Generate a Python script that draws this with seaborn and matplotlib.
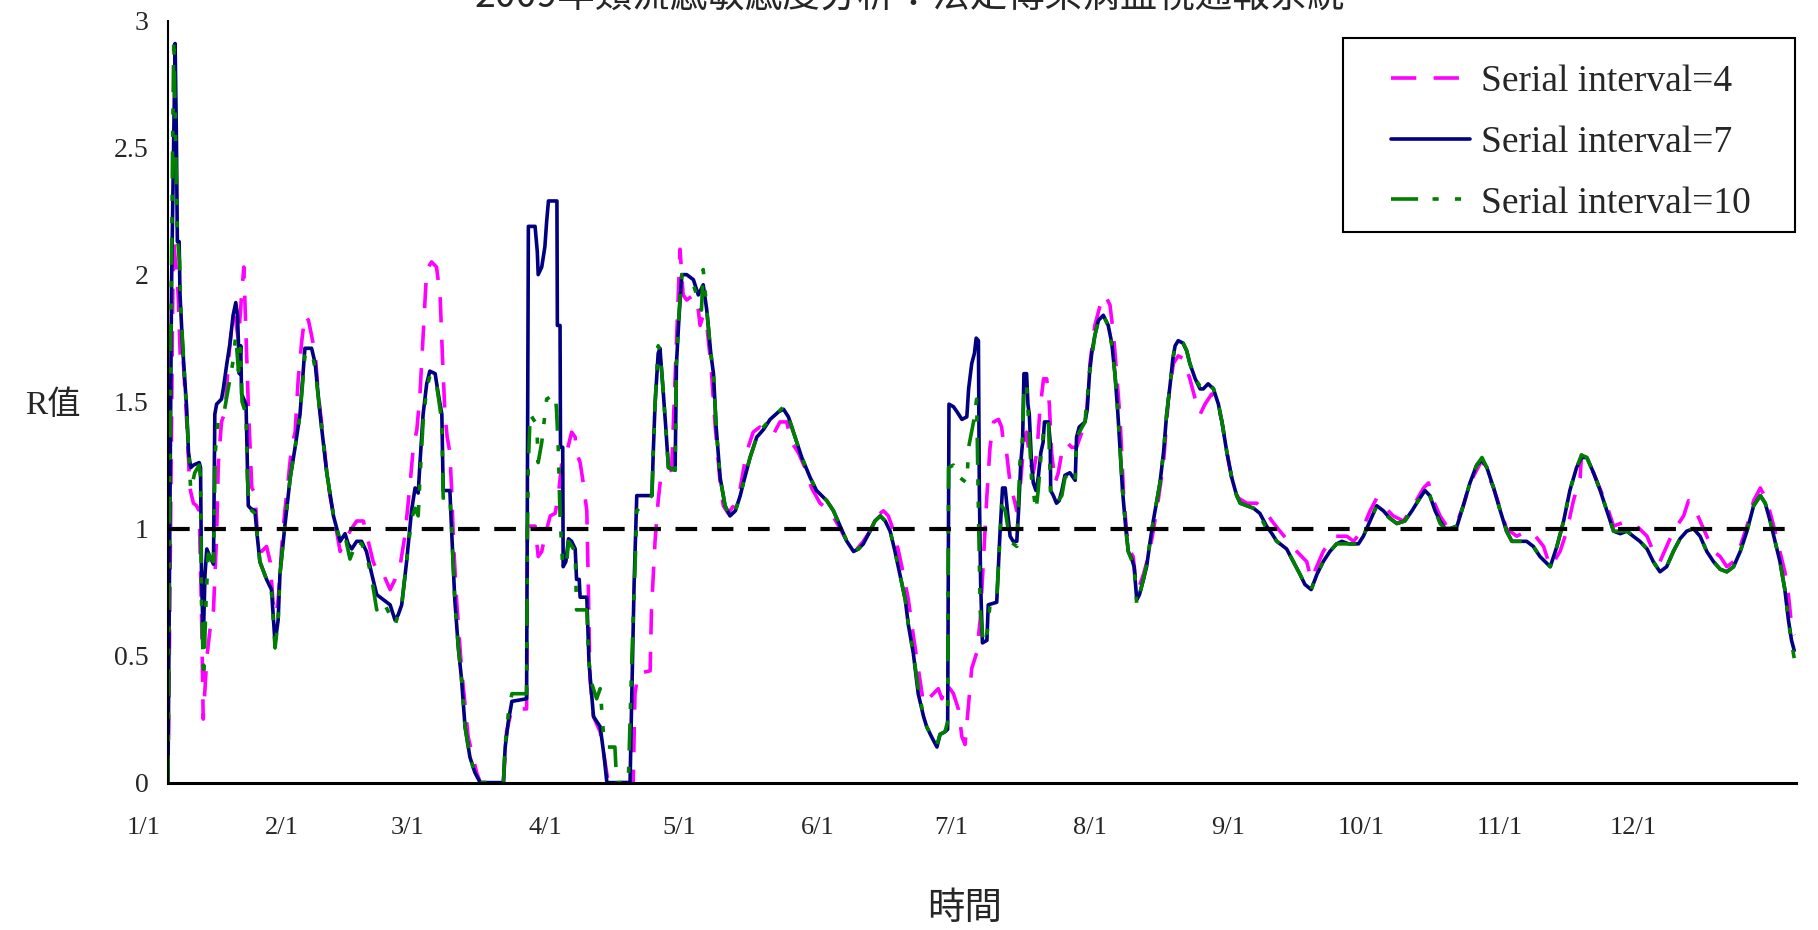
import pandas as pd
import numpy as np
import matplotlib
matplotlib.use("Agg")
import matplotlib.pyplot as plt
from matplotlib.patches import Rectangle
from matplotlib.transforms import ScaledTranslation
import seaborn as sns

sns.set_style("white")
plt.rcParams["font.family"] = ["Liberation Serif", "Noto Sans CJK TC", "DejaVu Sans"]

title = "2009年類流感敏感度分析：法定傳染病監視通報系統"
series_labels = ["Serial interval=4", "Serial interval=7", "Serial interval=10"]
month_starts = [0, 31, 59, 90, 120, 151, 181, 212, 243, 273, 304, 334, 365]
month_labels = ["1/1", "2/1", "3/1", "4/1", "5/1", "6/1", "7/1", "8/1",
                "9/1", "10/1", "11/1", "12/1", ""]
y_ticks = [0, 0.5, 1, 1.5, 2, 2.5, 3]

# (day of year, R)
si4 = [(0.0, 0.0), (0.3, 0.5), (1.2, 2.15), (2.3, 1.92), (2.8, 1.65), (3.4, 1.67), (4.2, 1.42),
       (4.9, 1.16), (5.7, 1.10), (6.4, 1.09), (7.0, 1.07), (7.5, 0.68), (7.9, 0.25), (8.7, 0.49),
       (9.4, 0.60), (10.2, 0.68), (10.9, 0.97), (11.3, 1.26), (12.0, 1.42), (12.8, 1.46),
       (13.5, 1.65), (14.3, 1.80), (15.0, 1.84), (15.8, 1.74), (16.5, 1.92), (17.0, 2.03),
       (17.5, 1.76), (18.0, 1.49), (18.8, 1.16), (19.5, 1.14), (20.0, 0.99), (21.0, 0.91),
       (22.1, 0.93), (22.9, 0.87), (23.6, 0.70), (24.2, 0.66), (24.7, 0.72), (25.5, 0.93),
       (26.2, 1.07), (27.0, 1.20), (27.7, 1.32), (28.5, 1.38), (29.2, 1.59), (30.0, 1.74),
       (30.7, 1.84), (31.5, 1.82), (32.2, 1.76), (33.0, 1.69), (33.7, 1.53), (34.8, 1.36),
       (35.6, 1.22), (36.3, 1.13), (37.4, 1.03), (38.6, 0.91), (39.7, 0.95), (40.8, 0.99),
       (42.3, 1.03), (43.8, 1.03), (44.9, 0.95), (46.0, 0.87), (47.2, 0.82), (48.3, 0.82),
       (49.8, 0.76), (50.9, 0.80), (52.0, 0.85), (53.1, 0.97), (54.3, 1.18), (55.0, 1.32),
       (55.8, 1.39), (56.5, 1.53), (57.2, 1.76), (58.0, 2.02), (59.1, 2.05), (60.2, 2.03),
       (61.0, 1.92), (61.6, 1.65), (62.1, 1.45), (62.6, 1.36), (63.2, 1.30), (63.6, 1.15),
       (64.0, 0.95), (64.7, 0.72), (65.8, 0.45), (67.3, 0.18), (69.2, 0.04), (70.0, 0.0),
       (75.2, 0.0), (75.9, 0.20), (77.1, 0.29), (80.4, 0.29), (80.6, 1.01), (82.3, 1.01),
       (83.0, 0.89), (83.8, 0.91), (84.5, 0.97), (85.7, 1.05), (86.8, 1.06), (87.5, 1.13),
       (88.3, 1.26), (89.4, 1.30), (90.5, 1.38), (91.3, 1.36), (91.6, 1.30), (92.4, 1.26),
       (93.1, 1.18), (93.9, 1.07), (94.3, 0.72), (94.6, 0.41), (95.4, 0.26), (96.9, 0.20),
       (98.0, 0.08), (98.7, 0.0), (104.3, 0.0), (104.7, 0.35), (105.4, 0.43), (108.1, 0.44),
       (108.4, 0.68), (109.2, 0.95), (109.9, 1.11), (110.6, 1.22), (112.9, 1.23), (114.0, 1.74),
       (114.8, 2.10), (115.5, 1.92), (116.3, 1.90), (117.8, 1.92), (118.9, 1.86), (119.3, 1.80),
       (120.0, 1.84), (120.8, 1.80), (121.7, 1.65), (122.7, 1.40), (123.8, 1.18), (124.5, 1.09),
       (125.6, 1.06), (126.8, 1.09), (128.3, 1.16), (129.7, 1.30), (131.2, 1.38), (132.7, 1.40),
       (134.2, 1.38), (135.7, 1.37), (137.2, 1.42), (138.7, 1.42), (139.8, 1.34), (141.3, 1.30),
       (142.8, 1.24), (144.3, 1.16), (146.2, 1.10), (148.4, 1.07), (150.7, 1.00), (152.5, 0.94),
       (154.0, 0.91), (155.9, 0.95), (157.4, 0.99), (158.9, 1.05), (160.4, 1.07), (161.5, 1.05),
       (162.7, 0.99), (163.8, 0.91), (164.9, 0.82), (166.0, 0.72), (167.1, 0.58), (168.2, 0.45),
       (169.4, 0.31), (170.5, 0.33), (171.6, 0.35), (172.7, 0.37), (173.5, 0.33), (174.2, 0.39),
       (175.3, 0.37), (176.1, 0.35), (177.2, 0.29), (178.0, 0.18), (178.7, 0.15), (179.4, 0.29),
       (180.2, 0.45), (181.3, 0.51), (182.1, 0.64), (182.8, 0.87), (183.6, 1.13), (184.3, 1.32),
       (185.1, 1.42), (186.2, 1.43), (186.9, 1.40), (187.3, 1.34), (188.0, 1.30), (188.8, 1.18),
       (189.5, 1.13), (190.3, 1.07), (191.0, 1.15), (191.8, 1.32), (192.5, 1.38), (193.3, 1.26),
       (194.0, 1.22), (194.8, 1.30), (195.5, 1.47), (196.3, 1.59), (197.0, 1.59), (197.6, 1.49),
       (198.1, 1.30), (198.9, 1.18), (199.6, 1.22), (200.4, 1.30), (201.5, 1.34), (202.6, 1.32),
       (203.7, 1.32), (204.9, 1.38), (206.0, 1.47), (206.7, 1.65), (207.8, 1.80), (209.0, 1.88),
       (210.1, 1.92), (211.2, 1.88), (212.0, 1.76), (212.7, 1.61), (213.5, 1.42), (214.2, 1.15),
       (214.9, 0.99), (215.7, 0.91), (216.4, 0.89), (217.2, 0.76), (217.9, 0.78), (218.7, 0.82),
       (219.8, 0.89), (220.9, 0.99), (222.0, 1.11), (223.2, 1.26), (224.3, 1.51), (225.4, 1.65),
       (226.5, 1.68), (227.6, 1.67), (229.1, 1.59), (230.6, 1.49), (231.4, 1.45), (232.5, 1.49),
       (234.0, 1.53), (235.1, 1.51), (236.3, 1.42), (237.4, 1.30), (238.9, 1.16), (240.0, 1.12),
       (241.9, 1.10), (244.1, 1.10), (246.0, 1.07), (247.5, 1.03), (249.3, 0.99), (251.2, 0.95),
       (253.1, 0.91), (255.3, 0.87), (256.3, 0.80), (259.0, 0.91), (261.3, 0.97), (262.8, 0.97),
       (264.3, 0.97), (265.8, 0.95), (267.6, 0.99), (269.5, 1.07), (271.0, 1.12), (272.5, 1.09),
       (274.7, 1.05), (277.0, 1.03), (279.2, 1.09), (281.5, 1.16), (282.6, 1.18), (283.7, 1.11),
       (285.2, 1.05), (286.7, 1.01), (288.9, 1.02), (290.4, 1.09), (291.9, 1.18), (294.6, 1.27),
       (297.2, 1.16), (300.1, 1.00), (302.4, 0.97), (304.6, 0.99), (306.6, 0.97), (308.4, 0.93),
       (309.5, 0.87), (310.0, 0.85), (312.1, 0.91), (313.6, 0.99), (315.1, 1.11), (316.6, 1.20),
       (316.9, 1.29), (319.6, 1.22), (322.6, 1.09), (324.1, 1.01), (325.6, 1.02), (327.1, 1.03),
       (329.3, 1.01), (331.6, 0.97), (333.0, 0.91), (334.5, 0.87), (336.0, 0.93), (337.5, 0.99),
       (339.8, 1.05), (340.9, 1.11), (342.0, 1.09), (343.5, 1.03), (345.0, 0.97), (346.5, 0.91),
       (348.0, 0.89), (349.5, 0.85), (351.0, 0.87), (352.5, 0.93), (354.0, 1.01), (355.5, 1.11),
       (357.0, 1.16), (358.5, 1.11), (360.0, 1.01), (361.4, 0.91), (362.5, 0.83), (363.3, 0.74),
       (364.0, 0.62), (364.6, 0.58)]

si7 = [(0.0, 0.0), (0.8, 1.96), (1.6, 2.91), (1.9, 2.52), (2.1, 2.13), (2.5, 2.13), (2.7, 1.92),
       (3.3, 1.71), (4.2, 1.47), (4.6, 1.30), (5.1, 1.24), (5.7, 1.25), (7.0, 1.26), (7.3, 1.24),
       (7.5, 0.84), (7.9, 0.55), (8.3, 0.82), (8.7, 0.92), (9.4, 0.89), (10.2, 0.86), (10.5, 1.45),
       (10.9, 1.49), (12.0, 1.51), (12.4, 1.55), (13.2, 1.65), (13.9, 1.73), (14.6, 1.84),
       (15.2, 1.89), (15.6, 1.84), (16.0, 1.61), (16.3, 1.72), (16.5, 1.53), (17.5, 1.49),
       (17.8, 1.26), (18.0, 1.09), (18.5, 1.08), (19.5, 1.07), (19.9, 0.99), (20.6, 0.87),
       (22.1, 0.80), (23.2, 0.76), (24.0, 0.55), (24.7, 0.64), (25.1, 0.82), (26.2, 1.01),
       (27.4, 1.20), (28.5, 1.32), (29.6, 1.45), (30.7, 1.71), (32.2, 1.71), (33.0, 1.65),
       (34.1, 1.45), (35.6, 1.22), (37.1, 1.05), (38.6, 0.95), (39.7, 0.98), (40.4, 0.94),
       (41.2, 0.92), (42.3, 0.95), (43.4, 0.95), (44.5, 0.91), (45.7, 0.82), (46.8, 0.74),
       (48.3, 0.72), (49.8, 0.70), (50.9, 0.64), (51.6, 0.66), (52.4, 0.70), (53.5, 0.87),
       (54.6, 1.07), (55.4, 1.16), (56.1, 1.14), (56.5, 1.26), (57.2, 1.45), (58.0, 1.57),
       (58.7, 1.62), (59.9, 1.61), (60.6, 1.53), (61.4, 1.45), (61.7, 1.15), (63.2, 1.15),
       (63.6, 0.99), (64.3, 0.72), (65.1, 0.53), (65.8, 0.41), (66.6, 0.22), (67.7, 0.10),
       (68.8, 0.04), (70.0, 0.0), (75.2, 0.0), (75.6, 0.14), (76.3, 0.24), (77.1, 0.32),
       (80.4, 0.33), (80.6, 1.26), (80.8, 2.19), (82.3, 2.19), (82.8, 2.09), (83.0, 2.00),
       (83.8, 2.03), (84.5, 2.11), (84.9, 2.21), (85.3, 2.29), (87.2, 2.29), (87.3, 1.80),
       (87.9, 1.80), (88.0, 1.32), (88.5, 1.32), (88.6, 0.85), (89.2, 0.87), (89.8, 0.96),
       (90.5, 0.95), (91.3, 0.92), (91.6, 0.80), (92.2, 0.80), (92.4, 0.73), (93.9, 0.73),
       (94.4, 0.47), (95.4, 0.26), (96.9, 0.22), (97.8, 0.10), (98.4, 0.0), (103.6, 0.0),
       (103.9, 0.27), (104.5, 0.78), (105.1, 1.13), (108.5, 1.13), (108.8, 1.30), (109.2, 1.49),
       (109.9, 1.69), (110.3, 1.71), (110.9, 1.57), (111.6, 1.40), (112.2, 1.24), (113.7, 1.23),
       (114.0, 1.65), (114.6, 1.84), (115.2, 2.00), (116.3, 2.00), (117.8, 1.98), (118.9, 1.92),
       (120.0, 1.96), (120.8, 1.86), (121.7, 1.69), (122.3, 1.61), (122.9, 1.40), (123.8, 1.20),
       (124.9, 1.09), (126.0, 1.05), (127.2, 1.07), (128.3, 1.13), (129.0, 1.18), (130.5, 1.28),
       (132.0, 1.36), (133.5, 1.39), (135.0, 1.43), (136.9, 1.46), (138.0, 1.47), (139.1, 1.44),
       (140.6, 1.36), (142.1, 1.28), (144.0, 1.20), (145.4, 1.15), (147.7, 1.11), (149.2, 1.07),
       (150.7, 1.01), (152.2, 0.95), (153.7, 0.91), (154.8, 0.92), (155.9, 0.94), (157.4, 0.99),
       (158.5, 1.03), (159.7, 1.05), (160.8, 1.03), (161.9, 0.99), (163.0, 0.91), (164.1, 0.82),
       (165.3, 0.72), (166.0, 0.62), (167.1, 0.51), (168.2, 0.35), (169.4, 0.26), (170.1, 0.22),
       (171.2, 0.18), (172.4, 0.14), (173.1, 0.19), (174.2, 0.20), (174.8, 0.21), (175.1, 1.49),
       (176.1, 1.48), (176.9, 1.46), (178.0, 1.43), (179.1, 1.44), (179.5, 1.55), (180.2, 1.65),
       (180.8, 1.69), (181.2, 1.75), (181.7, 1.74), (181.9, 1.16), (182.2, 0.78), (182.6, 0.55),
       (183.6, 0.56), (183.9, 0.70), (185.8, 0.71), (186.5, 0.97), (187.1, 1.16), (187.7, 1.16),
       (188.2, 1.07), (188.8, 0.97), (189.5, 0.95), (190.3, 0.95), (190.7, 1.07), (191.2, 1.26),
       (191.6, 1.34), (191.9, 1.61), (192.5, 1.61), (192.8, 1.49), (193.1, 1.45), (193.6, 1.26),
       (194.0, 1.18), (194.6, 1.15), (195.1, 1.20), (195.7, 1.30), (196.2, 1.34), (196.5, 1.42),
       (197.4, 1.42), (197.8, 1.34), (197.9, 1.15), (198.5, 1.13), (199.2, 1.10), (199.8, 1.11),
       (200.4, 1.15), (201.1, 1.21), (202.2, 1.22), (203.4, 1.19), (203.7, 1.36), (204.3, 1.40),
       (205.6, 1.42), (206.1, 1.47), (206.6, 1.61), (207.1, 1.69), (207.8, 1.76), (208.6, 1.82),
       (209.7, 1.84), (210.8, 1.80), (211.6, 1.73), (212.3, 1.61), (212.9, 1.47), (213.5, 1.30),
       (214.0, 1.15), (214.8, 0.99), (215.3, 0.91), (216.1, 0.88), (216.6, 0.85), (217.2, 0.72),
       (217.8, 0.74), (218.7, 0.80), (219.4, 0.85), (220.2, 0.95), (220.9, 1.03), (221.7, 1.11),
       (222.4, 1.18), (223.2, 1.30), (223.9, 1.45), (224.7, 1.57), (225.3, 1.67), (225.8, 1.72),
       (226.5, 1.74), (227.6, 1.73), (228.4, 1.70), (229.1, 1.65), (230.3, 1.59), (231.4, 1.55),
       (232.1, 1.55), (233.2, 1.57), (234.4, 1.55), (235.5, 1.49), (236.3, 1.42), (237.4, 1.30),
       (238.5, 1.20), (239.6, 1.13), (240.4, 1.10), (241.9, 1.09), (243.4, 1.08), (244.8, 1.06),
       (246.3, 1.01), (247.5, 0.98), (248.6, 0.95), (250.8, 0.92), (252.3, 0.87), (253.8, 0.82),
       (254.9, 0.78), (256.3, 0.76), (257.6, 0.82), (259.0, 0.87), (260.5, 0.91), (262.0, 0.94),
       (263.2, 0.95), (264.7, 0.94), (266.9, 0.94), (268.0, 0.97), (269.5, 1.03), (271.0, 1.09),
       (272.5, 1.07), (274.0, 1.04), (275.5, 1.02), (277.3, 1.03), (278.9, 1.07), (280.3, 1.11),
       (281.8, 1.15), (282.9, 1.13), (284.1, 1.07), (285.2, 1.03), (286.3, 1.00), (287.5, 1.00),
       (289.0, 1.01), (290.4, 1.09), (291.9, 1.18), (293.4, 1.25), (294.6, 1.27), (295.7, 1.24),
       (297.2, 1.16), (298.7, 1.07), (300.1, 0.99), (301.3, 0.95), (304.6, 0.95), (306.1, 0.93),
       (307.6, 0.89), (309.9, 0.85), (311.4, 0.93), (312.9, 1.03), (314.3, 1.15), (315.8, 1.24),
       (316.9, 1.28), (318.1, 1.28), (319.6, 1.22), (321.1, 1.15), (322.6, 1.07), (324.1, 0.99),
       (325.6, 0.98), (327.1, 0.99), (328.5, 0.97), (330.0, 0.95), (331.6, 0.92), (333.0, 0.87),
       (334.5, 0.83), (336.0, 0.85), (337.5, 0.91), (339.0, 0.96), (340.5, 0.99), (342.0, 1.00),
       (343.5, 0.97), (345.0, 0.91), (346.5, 0.87), (348.0, 0.84), (349.5, 0.83), (351.0, 0.85),
       (352.5, 0.91), (354.0, 0.99), (355.5, 1.09), (357.0, 1.13), (358.1, 1.10), (359.2, 1.03),
       (360.3, 0.95), (361.4, 0.87), (362.5, 0.76), (363.3, 0.64), (364.0, 0.56), (364.6, 0.52)]

si10 = [(0.0, 0.0), (0.5, 1.45), (1.0, 2.45), (1.3, 2.93), (1.7, 2.55), (2.1, 2.15), (2.6, 2.05),
        (2.9, 1.85), (3.4, 1.70), (4.2, 1.45), (4.7, 1.28), (5.1, 1.15), (6.0, 1.22), (7.0, 1.25),
        (7.3, 1.20), (7.5, 0.72), (8.0, 0.41), (8.5, 0.70), (9.0, 0.90), (10.2, 0.87), (10.6, 1.30),
        (11.2, 1.42), (12.5, 1.45), (13.5, 1.55), (14.5, 1.65), (15.2, 1.76), (15.8, 1.62),
        (16.3, 1.72), (16.6, 1.50), (17.5, 1.45), (17.8, 1.20), (18.2, 1.08), (19.5, 1.06),
        (19.9, 0.99), (20.6, 0.87), (22.1, 0.80), (23.2, 0.75), (24.0, 0.53), (24.7, 0.64),
        (25.1, 0.82), (26.2, 1.01), (27.4, 1.20), (28.5, 1.32), (29.6, 1.45), (30.7, 1.68),
        (32.2, 1.70), (33.0, 1.63), (34.1, 1.45), (35.6, 1.22), (37.1, 1.05), (38.6, 0.95),
        (39.7, 0.97), (40.8, 0.88), (42.3, 0.95), (43.4, 0.94), (44.5, 0.90), (45.7, 0.80),
        (46.8, 0.68), (48.3, 0.71), (49.8, 0.66), (50.9, 0.62), (51.6, 0.66), (52.4, 0.70),
        (53.5, 0.87), (54.6, 1.04), (55.4, 1.08), (56.1, 1.05), (56.5, 1.20), (57.2, 1.42),
        (58.0, 1.55), (58.7, 1.60), (59.9, 1.60), (60.6, 1.52), (61.4, 1.42), (61.7, 1.12),
        (63.2, 1.13), (63.6, 0.99), (64.3, 0.72), (65.1, 0.53), (65.8, 0.41), (66.6, 0.22),
        (67.7, 0.10), (68.8, 0.04), (70.0, 0.0), (75.2, 0.0), (75.6, 0.15), (76.3, 0.27),
        (77.1, 0.35), (80.4, 0.35), (80.6, 1.01), (80.8, 1.26), (81.2, 1.45), (82.3, 1.42),
        (82.7, 1.40), (83.0, 1.26), (83.8, 1.34), (84.5, 1.45), (84.9, 1.51), (86.8, 1.53),
        (87.1, 1.47), (87.5, 1.32), (87.9, 1.05), (88.5, 0.85), (89.4, 0.87), (89.8, 0.95),
        (91.3, 0.91), (91.6, 0.68), (93.9, 0.68), (94.3, 0.49), (95.0, 0.39), (96.1, 0.33),
        (96.9, 0.37), (97.6, 0.20), (98.4, 0.14), (100.2, 0.14), (100.6, 0.0), (103.2, 0.0),
        (104.0, 0.49), (104.7, 0.84), (105.1, 1.07), (108.5, 1.13), (108.8, 1.30), (109.2, 1.49),
        (109.9, 1.72), (110.3, 1.70), (110.9, 1.57), (111.6, 1.40), (112.2, 1.24), (113.7, 1.23),
        (114.0, 1.65), (114.6, 1.86), (115.2, 2.00), (116.3, 1.99), (117.8, 1.96), (118.9, 1.90),
        (119.6, 1.86), (120.0, 2.02), (120.8, 1.86), (121.7, 1.69), (122.3, 1.61), (122.9, 1.40),
        (123.8, 1.20), (124.9, 1.09), (126.0, 1.05), (127.2, 1.07), (128.3, 1.13), (129.0, 1.18),
        (130.5, 1.28), (132.0, 1.36), (133.5, 1.40), (135.0, 1.43), (136.9, 1.46), (138.0, 1.48),
        (139.1, 1.44), (140.6, 1.36), (142.1, 1.28), (144.0, 1.20), (145.4, 1.15), (147.7, 1.11),
        (149.2, 1.07), (150.7, 1.01), (152.2, 0.95), (153.7, 0.91), (154.8, 0.92), (155.9, 0.94),
        (157.4, 0.99), (158.5, 1.03), (159.7, 1.05), (160.8, 1.03), (161.9, 0.99), (163.0, 0.91),
        (164.1, 0.82), (165.3, 0.72), (166.0, 0.62), (167.1, 0.51), (168.2, 0.37), (169.4, 0.26),
        (170.1, 0.22), (171.2, 0.18), (172.4, 0.15), (173.1, 0.19), (174.2, 0.20), (174.8, 0.24),
        (175.0, 1.24), (176.1, 1.25), (177.6, 1.20), (179.1, 1.18), (179.5, 1.32), (180.6, 1.42),
        (181.3, 1.51), (181.7, 1.07), (182.1, 0.68), (182.8, 0.55), (183.6, 0.58), (184.3, 0.70),
        (185.8, 0.72), (186.9, 1.09), (187.7, 1.07), (188.8, 0.95), (190.3, 0.93), (191.0, 1.26),
        (191.6, 1.36), (191.9, 1.55), (192.5, 1.57), (192.8, 1.47), (193.6, 1.20), (194.6, 1.07),
        (195.1, 1.15), (195.7, 1.28), (196.5, 1.42), (197.4, 1.42), (197.9, 1.13), (199.2, 1.10),
        (200.4, 1.13), (201.1, 1.20), (202.2, 1.22), (203.4, 1.19), (203.7, 1.36), (205.6, 1.42),
        (206.6, 1.61), (207.8, 1.76), (208.6, 1.82), (209.7, 1.84), (210.8, 1.80), (211.6, 1.72),
        (212.3, 1.61), (212.9, 1.47), (213.5, 1.30), (214.0, 1.15), (214.8, 0.99), (215.3, 0.91),
        (216.6, 0.85), (217.2, 0.70), (217.8, 0.74), (218.7, 0.80), (219.4, 0.86), (220.2, 0.95),
        (220.9, 1.03), (221.7, 1.11), (222.4, 1.18), (223.2, 1.30), (223.9, 1.45), (224.7, 1.57),
        (225.3, 1.67), (225.8, 1.72), (226.5, 1.74), (227.6, 1.73), (228.4, 1.70), (229.1, 1.65),
        (230.3, 1.59), (231.4, 1.56), (232.1, 1.56), (233.2, 1.58), (234.4, 1.55), (235.5, 1.49),
        (236.3, 1.42), (237.4, 1.30), (238.5, 1.20), (239.6, 1.13), (240.4, 1.10), (241.9, 1.09),
        (243.4, 1.08), (244.8, 1.05), (246.3, 1.00), (247.5, 0.97), (248.6, 0.95), (250.8, 0.92),
        (252.3, 0.87), (253.8, 0.82), (254.9, 0.78), (256.3, 0.76), (257.6, 0.82), (259.0, 0.87),
        (260.5, 0.91), (262.0, 0.94), (263.2, 0.94), (264.7, 0.94), (266.9, 0.94), (268.0, 0.97),
        (269.5, 1.03), (271.0, 1.09), (272.5, 1.06), (274.0, 1.04), (275.5, 1.02), (277.3, 1.03),
        (278.9, 1.07), (280.3, 1.11), (281.8, 1.15), (282.9, 1.13), (284.1, 1.07), (285.2, 1.02),
        (286.3, 1.00), (287.5, 1.00), (289.0, 1.01), (290.4, 1.09), (291.9, 1.18), (293.4, 1.25),
        (294.6, 1.28), (295.7, 1.24), (297.2, 1.16), (298.7, 1.07), (300.1, 0.99), (301.3, 0.95),
        (304.6, 0.95), (306.1, 0.93), (307.6, 0.89), (309.9, 0.85), (311.4, 0.93), (312.9, 1.03),
        (314.3, 1.15), (315.8, 1.24), (316.9, 1.29), (318.1, 1.28), (319.6, 1.22), (321.1, 1.15),
        (322.6, 1.07), (324.1, 0.99), (325.6, 0.99), (327.1, 0.99), (328.5, 0.97), (330.0, 0.95),
        (331.6, 0.92), (333.0, 0.87), (334.5, 0.83), (336.0, 0.85), (337.5, 0.91), (339.0, 0.96),
        (340.5, 0.99), (342.0, 1.00), (343.5, 0.97), (345.0, 0.91), (346.5, 0.87), (348.0, 0.84),
        (349.5, 0.83), (351.0, 0.85), (352.5, 0.91), (354.0, 0.99), (355.5, 1.09), (357.0, 1.13),
        (358.1, 1.10), (359.2, 1.03), (360.3, 0.95), (361.4, 0.87), (362.5, 0.76), (363.3, 0.64),
        (364.0, 0.55), (364.6, 0.49)]

colors = ["#FF00FF", "#000080", "#008000"]
styles = [(0, (7, 4.8)), "-", (0, (7.5, 4, 1.7, 4.5, 1.7, 4.5))]

fig = plt.figure(figsize=(18.18, 9.30), dpi=100)
ax = fig.add_axes([0.0924, 0.1585, 0.8955, 0.8193])

handles = []
for data, c, ls in zip([si4, si7, si10], colors, styles):
    df = pd.DataFrame(data, columns=["day", "R"])
    sns.lineplot(data=df, x="day", y="R", ax=ax, color=c, linestyle=ls,
                 lw=2.6, estimator=None, sort=False)
    handles.append(ax.lines[-1])

# reference line R = 1
ax.axhline(1, color="black", lw=3, linestyle=(0, (5.2, 3.5)), zorder=3)

ax.set_xlim(0, 365)
ax.set_ylim(0, 3)
ax.set_xticks(month_starts)
ax.set_xticklabels(month_labels)
ax.set_yticks(y_ticks)
ax.set_yticklabels(["%g" % v for v in y_ticks])
ax.tick_params(axis="x", direction="in", length=7, width=1.2, pad=25, labelsize=19)
ax.tick_params(axis="y", direction="in", length=7, width=1.2, pad=14, labelsize=20)
shift = ScaledTranslation(-0.24, 0, fig.dpi_scale_trans)
for lab in ax.get_xticklabels():
    lab.set_transform(lab.get_transform() + shift)

for s in ["top", "right"]:
    ax.spines[s].set_visible(False)
ax.spines["left"].set_linewidth(1.5)
ax.spines["bottom"].set_linewidth(2.2)
ax.spines["left"].set_color("black")
ax.spines["bottom"].set_color("black")

ax.set_xlabel("時間", fontsize=27, family=["Noto Sans CJK TC"], va="center")
ax.xaxis.set_label_coords(0.4896, -0.1646)
ax.set_ylabel("R值", fontsize=24, rotation=0, va="center", ha="center")
ax.yaxis.set_label_coords(-0.0706, 0.4942)

fig.text(0.5006, 1 - 8 / 930, title, ha="center", va="baseline", fontsize=27,
         family=["Noto Sans CJK TC"])

ax.add_patch(Rectangle((0.7217, 0.7226), 0.2777, 0.2544, transform=ax.transAxes,
                       facecolor="white", edgecolor="black", lw=1.5, zorder=4, clip_on=False))
leg = ax.legend(handles, series_labels, loc="center left", bbox_to_anchor=(0.7512, 0.8400),
                frameon=False, borderpad=0, borderaxespad=0, handlelength=2.1,
                handletextpad=0.3, labelspacing=0.7,
                prop={"family": "Liberation Serif", "size": 27})
leg.set_zorder(6)

fig.savefig("out.png", dpi=100)
